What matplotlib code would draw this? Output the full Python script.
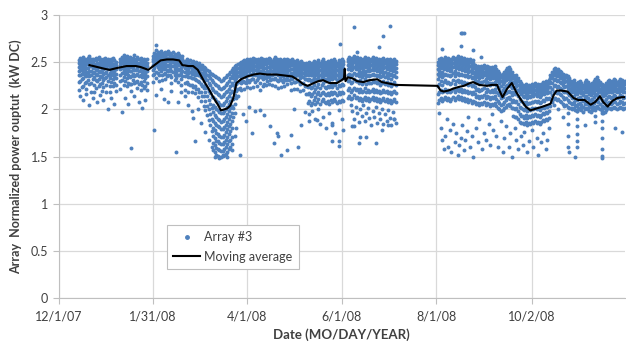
import matplotlib
matplotlib.use("Agg")
import matplotlib.pyplot as plt
from matplotlib.lines import Line2D

# daily readings of Array #3: [day since 12/1/07, values in 1/100 kW DC ...]
dec_feb = [
    [13, 252, 249, 245, 241, 236, 229, 221], [14, 255, 251, 247, 242, 237, 230], [15, 253, 250, 246, 243, 238, 232, 224],
    [16, 256, 252, 248, 245, 240, 233, 225], [17, 254, 250, 247, 243, 237, 228], [18, 252, 249, 244, 240, 235, 229, 222],
    [19, 255, 252, 248, 244, 239, 231], [20, 257, 253, 250, 246, 241, 235, 227], [21, 253, 250, 246, 241, 236, 228, 219],
    [22, 254, 251, 247, 244, 239, 232], [23, 252, 248, 245, 240, 234, 226, 218], [24, 255, 252, 247, 243, 238, 231, 223],
    [25, 253, 249, 246, 242, 236, 230], [26, 256, 253, 249, 245, 240, 232, 225], [27, 254, 250, 246, 241, 235, 227],
    [28, 251, 248, 244, 240, 234, 228, 220], [29, 253, 250, 247, 243, 238, 231, 224], [30, 255, 251, 248, 244, 239, 233],
    [31, 252, 249, 245, 240, 234, 226, 219], [32, 254, 250, 247, 243, 237, 230], [33, 251, 248, 244, 239, 233, 225, 218],
    [34, 253, 249, 246, 242, 236, 229], [35, 255, 252, 248, 244, 239, 232, 225], [36, 252, 248, 245, 241, 235, 228],
    [37, 250, 247, 243, 238, 233, 226, 220],
    [40, 254, 250, 247, 243, 237, 230, 222], [41, 256, 252, 249, 244, 239, 231], [42, 258, 254, 250, 246, 241, 234, 226],
    [43, 255, 251, 248, 243, 238, 230], [44, 257, 253, 250, 245, 240, 233, 225], [45, 254, 251, 247, 242, 236, 228],
    [46, 256, 252, 249, 245, 241, 234, 227], [47, 253, 250, 246, 241, 235, 227, 220], [48, 255, 251, 248, 244, 238, 231],
    [49, 258, 254, 251, 247, 242, 235, 228], [50, 254, 250, 247, 242, 236, 229], [51, 256, 253, 249, 244, 238, 230, 223],
    [52, 253, 249, 246, 241, 235, 227], [53, 255, 251, 248, 243, 237, 229, 221], [54, 252, 249, 245, 240, 234, 226],
    [55, 254, 250, 247, 242, 236, 230, 223], [56, 251, 248, 244, 239, 233, 225], [57, 253, 249, 246, 241, 235, 228, 221],
]

mar_apr = [
    [61, 257, 254, 251, 247, 242, 236, 229], [62, 260, 256, 253, 249, 244, 238], [63, 263, 259, 256, 252, 247, 240, 233],
    [64, 261, 257, 254, 250, 245, 239], [65, 259, 256, 252, 248, 243, 236, 230], [66, 262, 258, 255, 251, 246, 241],
    [67, 260, 257, 253, 249, 244, 237, 231], [68, 258, 255, 251, 247, 243, 238], [69, 261, 257, 254, 250, 245, 239, 232],
    [70, 259, 255, 252, 247, 242, 235], [71, 262, 259, 255, 251, 246, 241, 236], [72, 260, 256, 253, 248, 243, 236],
    [73, 258, 254, 251, 246, 241, 234, 228], [74, 261, 257, 254, 250, 246, 240], [75, 259, 256, 252, 248, 243, 237, 231],
    [76, 257, 253, 250, 245, 240, 233], [77, 260, 256, 253, 248, 243, 236, 229], [78, 258, 255, 251, 247, 242, 237],
    [79, 256, 252, 249, 244, 239, 232, 226], [80, 257, 253, 250, 246, 241, 235],
    [82, 251, 248, 244, 240, 235, 228, 221], [83, 253, 249, 246, 242, 236, 229], [84, 250, 247, 243, 239, 234, 227, 219],
    [85, 252, 248, 245, 240, 234, 226], [86, 249, 246, 242, 238, 233, 226, 218], [87, 251, 247, 244, 239, 233, 224],
    [88, 248, 245, 241, 237, 232, 225, 217], [89, 250, 246, 243, 238, 231, 222], [90, 247, 244, 240, 236, 230, 222, 213],
    [91, 249, 245, 241, 236, 229, 219], [92, 246, 243, 239, 234, 227, 218, 209], [93, 247, 243, 238, 233, 225, 214],
    [94, 245, 241, 236, 230, 223, 214, 204], [95, 244, 239, 233, 226, 218, 209, 199], [96, 242, 237, 231, 223, 214, 204, 194],
    [97, 241, 235, 228, 220, 210, 200, 189], [98, 239, 233, 226, 217, 206, 195, 183], [99, 238, 231, 223, 213, 202, 190, 177],
    [100, 236, 229, 221, 213, 205, 197, 188, 180, 172, 164, 157], [101, 235, 227, 219, 211, 203, 194, 186, 178, 170, 162, 155],
    [102, 234, 226, 218, 209, 200, 192, 184, 175, 167, 159, 152], [103, 233, 225, 216, 208, 199, 190, 182, 174, 166, 158, 151],
    [104, 232, 223, 215, 206, 197, 189, 181, 172, 164, 157, 150], [105, 230, 222, 213, 205, 196, 187, 179, 171, 163, 156, 150],
    [106, 231, 223, 214, 205, 196, 188, 179, 171, 163, 156, 151], [107, 233, 224, 216, 207, 198, 190, 181, 173, 165, 158, 152],
    [108, 234, 226, 218, 209, 200, 192, 184, 176, 168, 160, 153], [109, 236, 228, 220, 212, 203, 195, 187, 179, 171, 163, 155],
    [110, 238, 230, 222, 214, 206, 198, 190, 182, 174, 166, 158], [111, 240, 233, 225, 217, 209, 201, 193, 185, 177, 168, 160],
    [112, 242, 235, 228, 220, 212, 204, 196, 188, 180, 171, 163],
    [113, 244, 239, 233, 226, 219, 211, 202, 192], [114, 246, 241, 236, 230, 223, 215, 206, 196],
    [115, 247, 243, 238, 233, 227, 220, 212], [116, 248, 244, 240, 235, 229, 222, 214], [117, 249, 245, 241, 236, 230, 223],
]

apr_may = [
    [118, 250, 247, 243, 239, 234, 228, 221], [119, 251, 248, 244, 240, 235, 230], [120, 252, 249, 245, 241, 236, 229, 222],
    [121, 250, 247, 244, 240, 234, 228], [122, 253, 250, 246, 242, 237, 231, 224], [123, 251, 248, 245, 241, 236, 229],
    [124, 254, 250, 247, 243, 238, 231, 223], [125, 252, 249, 246, 242, 237, 232], [126, 255, 251, 248, 244, 239, 232, 224],
    [127, 253, 250, 246, 242, 236, 229], [128, 251, 248, 245, 241, 236, 231, 225], [129, 254, 251, 247, 244, 239, 233],
    [130, 252, 249, 245, 241, 235, 228, 221], [131, 255, 252, 248, 245, 240, 234], [132, 253, 250, 247, 243, 238, 232, 225],
    [133, 251, 248, 244, 240, 234, 227], [134, 254, 251, 248, 244, 239, 233, 226], [135, 252, 249, 245, 241, 236, 230],
    [136, 255, 252, 249, 245, 240, 234, 227], [137, 253, 250, 246, 242, 237, 231], [138, 251, 248, 245, 241, 237, 232, 226],
    [139, 254, 251, 247, 243, 238, 232], [140, 256, 253, 249, 245, 240, 233, 225], [141, 253, 250, 247, 243, 238, 231],
    [142, 251, 248, 245, 241, 236, 230, 223], [143, 254, 251, 248, 244, 239, 233], [144, 252, 249, 246, 242, 237, 231, 224],
    [145, 250, 247, 244, 240, 235, 229], [146, 253, 250, 247, 243, 238, 232, 225], [147, 251, 248, 245, 241, 237, 231],
    [148, 254, 251, 248, 244, 240, 234, 227], [149, 252, 249, 246, 242, 237, 231], [150, 250, 247, 243, 239, 234, 228, 221],
    [151, 253, 250, 247, 243, 238, 232], [152, 251, 248, 244, 240, 235, 229, 222], [153, 249, 246, 243, 239, 235, 229],
    [154, 252, 249, 245, 241, 236, 230, 222], [155, 250, 247, 244, 240, 236, 230], [156, 248, 245, 242, 238, 233, 227, 220],
    [157, 251, 248, 244, 240, 235, 228], [158, 249, 246, 243, 239, 234, 228, 221], [159, 247, 244, 241, 237, 232, 225],
    [160, 249, 246, 242, 238, 232, 225, 216],
]

jun_jul = [
    [161, 248, 245, 241, 236, 231, 224, 216, 207], [162, 250, 247, 243, 238, 232, 225, 217, 209],
    [163, 247, 244, 240, 236, 230, 223, 214, 205], [164, 249, 246, 242, 237, 231, 224, 216, 207],
    [165, 251, 248, 244, 239, 233, 226, 218, 210], [166, 248, 245, 241, 236, 230, 222, 213, 206],
    [167, 250, 247, 243, 238, 232, 224, 216, 208], [168, 252, 249, 245, 240, 234, 227, 219, 211],
    [169, 249, 246, 242, 237, 231, 223, 215, 206], [170, 251, 248, 244, 239, 233, 226, 217, 209],
    [171, 253, 250, 246, 241, 235, 228, 219, 211], [172, 250, 247, 243, 238, 232, 224, 216, 208],
    [173, 248, 245, 241, 236, 230, 223, 215, 207], [174, 251, 248, 244, 239, 233, 225, 217, 209],
    [175, 249, 246, 242, 237, 231, 224, 215, 206], [176, 252, 249, 245, 240, 234, 227, 218, 210],
    [177, 250, 247, 243, 238, 232, 224, 216, 208], [178, 253, 250, 246, 241, 235, 227, 219, 211],
    [179, 251, 248, 244, 239, 233, 226, 217, 209], [180, 249, 246, 242, 237, 231, 223, 215, 207],
    [181, 252, 249, 245, 240, 234, 226, 218, 209], [182, 250, 247, 243, 238, 232, 225, 216, 208],
    [183, 253, 250, 246, 241, 235, 227, 219, 210], [184, 251, 248, 244, 239, 233, 226, 217, 209],
    [187, 254, 251, 247, 243, 237, 230, 221, 212], [188, 256, 253, 249, 244, 238, 231, 223, 214],
    [189, 253, 250, 246, 242, 236, 228, 219, 211], [190, 255, 252, 248, 243, 237, 229, 221, 212],
    [191, 257, 254, 250, 245, 239, 232, 223, 215], [192, 254, 251, 247, 243, 237, 230, 221, 212],
    [193, 256, 253, 249, 244, 238, 230, 222, 213], [194, 253, 250, 246, 241, 235, 228, 219, 210],
    [195, 255, 252, 248, 244, 238, 231, 222, 212], [196, 252, 249, 245, 240, 234, 227, 218, 209],
    [197, 254, 251, 247, 242, 236, 229, 220, 211], [198, 256, 253, 249, 245, 239, 232, 223, 213],
    [199, 253, 250, 246, 241, 235, 227, 218, 210], [200, 255, 252, 248, 243, 237, 230, 221, 212],
    [201, 252, 249, 245, 241, 235, 228, 219, 209], [202, 254, 251, 247, 242, 236, 228, 220, 211],
    [203, 256, 253, 249, 244, 238, 231, 222, 213], [204, 253, 250, 246, 242, 236, 229, 219, 210],
    [205, 255, 252, 248, 243, 237, 229, 221, 212], [206, 252, 249, 245, 241, 235, 228, 218, 209],
    [207, 254, 251, 247, 242, 236, 229, 220, 211], [208, 251, 248, 244, 240, 234, 226, 217, 208],
    [209, 253, 250, 246, 241, 235, 228, 219, 210], [210, 255, 252, 248, 244, 238, 230, 221, 212],
    [211, 252, 249, 245, 240, 234, 227, 218, 209], [212, 254, 251, 247, 243, 237, 229, 220, 211],
    [213, 251, 248, 244, 239, 233, 226, 217, 208], [214, 253, 250, 246, 242, 236, 228, 219, 210],
    [215, 250, 247, 243, 238, 232, 225, 216, 207], [216, 252, 249, 245, 241, 235, 227, 218, 209],
    [217, 254, 251, 247, 242, 236, 229, 220, 211], [218, 251, 248, 244, 240, 234, 226, 217, 208],
]

aug_sep = [
    [245, 250, 247, 243, 238, 232, 225, 216, 207], [246, 253, 250, 246, 241, 235, 227, 219, 210],
    [247, 255, 252, 248, 244, 238, 230, 221, 212], [248, 252, 249, 245, 240, 234, 226, 218, 209],
    [249, 254, 251, 247, 243, 237, 229, 220, 211], [250, 256, 253, 249, 244, 238, 231, 222, 213],
    [251, 253, 250, 246, 242, 236, 228, 219, 210], [252, 255, 252, 248, 243, 237, 229, 221, 212],
    [253, 252, 249, 245, 241, 235, 227, 218, 209], [254, 254, 251, 247, 242, 236, 228, 220, 211],
    [255, 256, 253, 249, 245, 239, 231, 222, 213], [256, 253, 250, 246, 241, 235, 227, 219, 210],
    [257, 255, 252, 248, 244, 238, 230, 221, 212], [258, 257, 254, 250, 245, 239, 231, 223, 214],
    [259, 254, 251, 247, 243, 237, 229, 220, 211], [260, 256, 253, 249, 244, 238, 230, 222, 213],
    [261, 253, 250, 246, 242, 236, 228, 219, 210], [262, 255, 252, 248, 243, 237, 229, 221, 212],
    [263, 252, 249, 245, 241, 235, 227, 218, 209], [264, 254, 251, 247, 242, 236, 228, 220, 211],
    [265, 251, 248, 244, 240, 234, 226, 217, 208], [266, 253, 250, 246, 241, 235, 227, 219, 210],
    [267, 250, 247, 243, 239, 233, 225, 216, 207], [268, 252, 249, 245, 240, 234, 226, 218, 209],
    [269, 247, 244, 240, 236, 231, 224, 216, 208], [270, 245, 242, 238, 234, 228, 221, 213, 206],
    [271, 246, 243, 239, 235, 230, 222, 214, 207], [272, 244, 241, 237, 233, 227, 220, 212, 205],
    [273, 246, 243, 240, 235, 229, 221, 214, 207], [274, 245, 242, 238, 234, 229, 222, 213, 206],
    [275, 247, 244, 240, 236, 230, 223, 215, 208], [276, 244, 241, 237, 232, 227, 219, 212, 205],
    [277, 246, 243, 239, 235, 229, 222, 214, 207], [278, 245, 242, 238, 233, 228, 220, 213, 206],
    [279, 243, 240, 236, 232, 226, 219, 211, 204], [280, 245, 242, 238, 234, 228, 221, 213, 206],
    [281, 244, 241, 237, 233, 227, 219, 212, 205], [282, 246, 243, 239, 234, 229, 222, 214, 207],
    [283, 243, 240, 236, 232, 226, 218, 211, 204], [284, 241, 238, 234, 230, 224, 217, 209, 202],
    [285, 239, 236, 232, 228, 222, 215, 207, 200], [286, 237, 234, 230, 225, 219, 212, 205, 198],
    [287, 238, 235, 231, 227, 221, 213, 206, 199], [288, 240, 237, 233, 229, 223, 216, 208, 201],
    [289, 242, 239, 235, 231, 225, 217, 210, 203], [290, 244, 241, 237, 232, 226, 219, 212, 205],
    [291, 245, 242, 238, 234, 228, 220, 213, 206], [292, 243, 240, 236, 231, 225, 218, 211, 204],
    [293, 240, 237, 233, 229, 223, 215, 208, 201],
    [294, 236, 233, 229, 224, 218, 210, 201, 193], [295, 235, 232, 228, 223, 216, 208, 200, 192],
    [296, 236, 233, 229, 225, 218, 209, 201, 192], [297, 233, 230, 226, 221, 214, 206, 198, 190],
    [298, 230, 227, 223, 218, 211, 203, 195, 187], [299, 228, 225, 221, 216, 209, 201, 193, 186],
    [300, 226, 223, 219, 214, 208, 200, 193, 186], [301, 225, 222, 218, 213, 206, 199, 191, 185],
    [302, 227, 224, 220, 215, 208, 201, 194, 187], [303, 224, 221, 217, 212, 206, 198, 191, 184],
    [304, 226, 223, 219, 214, 207, 200, 193, 186], [305, 225, 222, 218, 213, 207, 199, 192, 185],
    [306, 227, 224, 220, 215, 208, 201, 194, 187], [307, 226, 223, 219, 214, 208, 200, 193, 186],
    [308, 228, 225, 221, 216, 209, 202, 195, 188], [309, 226, 223, 219, 214, 208, 200, 193, 186],
    [310, 227, 224, 220, 215, 209, 201, 194, 187], [311, 225, 222, 218, 213, 207, 199, 192, 185],
    [312, 227, 224, 220, 215, 208, 201, 194, 187], [313, 229, 226, 222, 217, 210, 203, 196, 189],
    [314, 228, 225, 221, 216, 209, 202, 195, 188], [315, 230, 227, 223, 218, 212, 204, 197, 190],
    [316, 229, 226, 222, 217, 211, 203, 196, 189], [317, 231, 228, 224, 219, 212, 205, 198, 191],
]

oct_nov = [
    [318, 236, 233, 229, 224, 218, 211, 204], [319, 240, 237, 233, 228, 222, 215, 208], [320, 243, 240, 236, 231, 225, 218, 211],
    [321, 244, 241, 237, 232, 226, 219, 212], [322, 242, 239, 235, 230, 224, 217, 210], [323, 243, 240, 236, 231, 225, 218, 211],
    [324, 241, 238, 234, 229, 223, 216, 209], [325, 240, 237, 233, 228, 222, 215, 208], [326, 238, 235, 231, 226, 220, 213, 206],
    [327, 236, 233, 229, 224, 218, 211, 204], [328, 237, 234, 230, 225, 219, 212, 205], [329, 235, 232, 228, 223, 217, 210, 203],
    [330, 233, 230, 226, 221, 215, 208, 201], [331, 230, 227, 223, 219, 214, 207, 201], [332, 229, 226, 222, 218, 212, 206, 200],
    [333, 231, 228, 224, 220, 214, 208, 202], [334, 228, 225, 221, 217, 211, 205, 199], [335, 227, 224, 220, 216, 210, 204, 198],
    [336, 229, 226, 222, 218, 212, 206, 200], [337, 230, 227, 223, 219, 213, 207, 201], [338, 228, 225, 221, 217, 211, 205, 199],
    [339, 226, 223, 219, 215, 209, 203, 197], [340, 229, 226, 222, 218, 212, 206, 200], [341, 231, 228, 224, 220, 214, 208, 202],
    [342, 229, 226, 222, 218, 212, 206, 200], [343, 227, 224, 220, 216, 210, 204, 198], [344, 226, 223, 219, 215, 209, 203, 197],
    [345, 228, 225, 221, 217, 211, 205, 199], [346, 230, 227, 223, 219, 213, 207, 201], [347, 232, 229, 225, 221, 215, 209, 203],
    [348, 234, 230, 226, 222, 216, 210, 204], [349, 231, 228, 224, 220, 214, 208, 202], [350, 229, 226, 222, 218, 212, 206, 200],
    [351, 227, 224, 220, 216, 210, 204, 198], [352, 225, 222, 218, 214, 208, 202, 196], [353, 226, 223, 219, 215, 209, 203, 197],
    [354, 228, 225, 221, 217, 211, 205, 199], [355, 230, 227, 223, 219, 213, 207, 201], [356, 231, 228, 224, 220, 214, 208, 202],
    [357, 229, 226, 222, 218, 212, 206, 200], [358, 230, 227, 223, 219, 213, 207, 201], [359, 232, 229, 225, 221, 215, 209, 203],
    [360, 231, 228, 224, 220, 214, 208, 202], [361, 229, 226, 222, 218, 212, 206, 200], [362, 230, 227, 223, 219, 213, 207, 201],
    [363, 232, 229, 225, 221, 215, 209, 203], [364, 231, 228, 224, 220, 214, 208, 202], [365, 229, 226, 222, 218, 212, 206, 200],
    [366, 230, 227, 223, 219, 213, 207, 201],
]

# scattered low / high readings (day, value in 1/100 kW DC)
stray_points = [
    (14, 214), (16, 210), (18, 216), (20, 205), (22, 212), (25, 208), (27, 215), (29, 210), (32, 200), (34, 212), (36, 206),
    (41, 197), (43, 212), (45, 206), (47, 159), (49, 214), (52, 208), (54, 202), (56, 210),
    (62, 178), (63, 215), (63, 268), (66, 222), (68, 211), (71, 208), (73, 220), (76, 155), (77, 208), (79, 218),
    (82, 214), (84, 205), (86, 198), (87, 191), (88, 167), (90, 200), (92, 186),
    (95, 176), (97, 168), (99, 160), (101, 150), (104, 149), (106, 152), (109, 150), (112, 157), (114, 172),
    (115, 180), (117, 152), (119, 195), (121, 188), (123, 203),
    (125, 175), (127, 198), (130, 199), (133, 194), (137, 182), (139, 164), (141, 175), (142, 172), (144, 152),
    (148, 157), (150, 173), (152, 200), (155, 160), (157, 183), (159, 197), (167, 189),
    (162, 195), (162, 188), (164, 198), (166, 190), (168, 200), (169, 185), (171, 192), (173, 180), (175, 196),
    (177, 186), (177, 166), (177, 183), (179, 175), (181, 166), (181, 161), (181, 199), (183, 190), (184, 178),
    (189, 205), (190, 198), (191, 190), (192, 203), (193, 196), (194, 187), (195, 200), (196, 193), (197, 205),
    (198, 188), (199, 196), (200, 202), (201, 191), (202, 184), (203, 198), (204, 192), (205, 203), (206, 186),
    (207, 196), (208, 190), (209, 200), (210, 185), (211, 195), (212, 188), (213, 199), (214, 191), (215, 184),
    (216, 197), (217, 190), (218, 186), (190, 182), (191, 182), (194, 164), (195, 171), (199, 171), (205, 164),
    (209, 178), (213, 183), (217, 190),
    (182, 269), (191, 287), (193, 261), (207, 266), (210, 278), (214, 288),
    (246, 196), (247, 180), (248, 168), (249, 158), (250, 172), (251, 190), (252, 160), (253, 178), (254, 155),
    (255, 185), (256, 165), (257, 175), (258, 152), (259, 162), (260, 170), (261, 183), (262, 157), (263, 168),
    (264, 177), (265, 192), (266, 160), (267, 172), (268, 150), (270, 180), (271, 165), (272, 190), (274, 158),
    (275, 175), (276, 168), (278, 185), (279, 162), (280, 195), (281, 178), (283, 172), (284, 160), (286, 188),
    (287, 155), (288, 170), (289, 182), (291, 160), (292, 175), (293, 150), (295, 180), (296, 168), (297, 158),
    (299, 172), (300, 162), (301, 176), (303, 155), (304, 166), (306, 178), (307, 160), (309, 170), (310, 152),
    (312, 165), (313, 175), (315, 158), (316, 168), (317, 180),
    (248, 264), (260, 281), (261, 281), (262, 281), (260, 267), (268, 263), (273, 256),
    (320, 205), (323, 200), (326, 192), (329, 196), (329, 185), (329, 172), (329, 160), (330, 155),
    (334, 150), (335, 198), (335, 190), (335, 182), (335, 174), (335, 166), (335, 160), (340, 183),
    (347, 199), (347, 193), (347, 187), (351, 196), (351, 188), (351, 180), (351, 170), (351, 158), (351, 151),
    (351, 149), (360, 180), (364, 176),
]

# moving average (day, kW DC)
ma_days = [20, 25, 30, 33, 38, 44, 50, 53, 58, 62, 66, 70, 74, 78, 80, 84, 87, 90, 94, 97, 100, 103, 105,
           107, 109, 111, 113, 115, 118, 122, 126, 130, 135, 141, 146, 151, 155, 158, 161, 165, 168, 171,
           175, 180, 183, 184.5, 185, 185.5, 187, 190, 193, 197, 201, 206, 209, 212, 218, 245, 247, 249,
           252, 255, 259, 262, 266, 268, 272, 277, 280, 283.5, 285, 287, 290, 293, 296, 299, 302, 305,
           309, 313, 318, 320, 322, 325, 329, 333, 336, 340, 344, 347, 350, 352, 355, 358, 361, 364, 366]
ma_vals = [2.47, 2.45, 2.43, 2.42, 2.44, 2.46, 2.46, 2.45, 2.42, 2.47, 2.52, 2.53, 2.53, 2.52, 2.47, 2.46,
           2.46, 2.42, 2.30, 2.22, 2.13, 2.05, 1.99, 2.00, 2.01, 2.04, 2.12, 2.28, 2.32, 2.35, 2.37, 2.38,
           2.37, 2.37, 2.36, 2.35, 2.31, 2.27, 2.25, 2.28, 2.30, 2.31, 2.28, 2.28, 2.31, 2.33, 2.43, 2.30,
           2.34, 2.33, 2.30, 2.29, 2.31, 2.32, 2.29, 2.28, 2.26, 2.25, 2.20, 2.19, 2.20, 2.22, 2.24, 2.25,
           2.28, 2.29, 2.26, 2.25, 2.26, 2.26, 2.20, 2.13, 2.22, 2.28, 2.18, 2.10, 2.03, 1.99, 2.01, 2.03,
           2.06, 2.15, 2.20, 2.20, 2.19, 2.12, 2.10, 2.10, 2.05, 2.08, 2.14, 2.08, 2.03, 2.09, 2.12, 2.13, 2.13]

tick_days = [0, 61, 122, 183, 244, 306]
tick_labels = ["12/1/07", "1/31/08", "4/1/08", "6/1/08", "8/1/08", "10/2/08"]

x, y = [], []
for period in [dec_feb, mar_apr, apr_may, jun_jul, aug_sep, oct_nov]:
    for row in period:
        for v in row[1:]:
            x.append(row[0])
            y.append(v / 100)
for d, v in stray_points:
    x.append(d)
    y.append(v / 100)

plt.rcParams['font.family'] = ['Lato', 'DejaVu Sans']
fig = plt.figure(figsize=(6.26, 3.52), dpi=100)
ax = fig.add_axes([0.0935, 0.1534, 0.9045, 0.8036])

ax.scatter(x, y, s=8, color='#4F81BD', linewidths=0, zorder=2, label='Array #3')
ax.plot(ma_days, ma_vals, color='black', lw=1.5, zorder=3, label='Moving average')

ax.set_xlim(0, 366)
ax.set_ylim(0, 3)
ax.set_xticks(tick_days)
ax.set_xticklabels(tick_labels)
ax.set_yticks([0, 0.5, 1, 1.5, 2, 2.5, 3])
ax.set_yticklabels(["0", "0.5", "1", "1.5", "2", "2.5", "3"])
ax.grid(True, color='#D9D9D9', lw=0.9, zorder=0)
ax.set_axisbelow(True)
for s in ['top', 'right']:
    ax.spines[s].set_visible(False)
for s in ['left', 'bottom']:
    ax.spines[s].set_color('#BFBFBF')
ax.tick_params(axis='both', colors='#BFBFBF', labelcolor='#404040', labelsize=9, length=4)
ax.tick_params(axis='x', pad=5)

ax.set_xlabel('Date (MO/DAY/YEAR)', fontsize=9.5, fontweight='bold', color='#404040', labelpad=4)
ax.set_ylabel('Array  Normalized power ouptut  (kW DC)', fontsize=9, fontweight='bold', color='#404040', labelpad=6)

handles = [Line2D([], [], marker='o', ls='none', color='#4F81BD', markersize=2.5),
           Line2D([], [], color='black', lw=1.5)]
leg = ax.legend(handles, ['Array #3', 'Moving average'], loc='lower left', bbox_to_anchor=(0.18, 0.08),
                fancybox=False, framealpha=1, edgecolor='#BFBFBF', fontsize=9, handlelength=2.2,
                handletextpad=0.3, borderpad=0.5, labelspacing=0.6)
leg.get_frame().set_linewidth(0.8)
for t in leg.get_texts():
    t.set_color('#404040')

fig.savefig('out.png', dpi=100)
